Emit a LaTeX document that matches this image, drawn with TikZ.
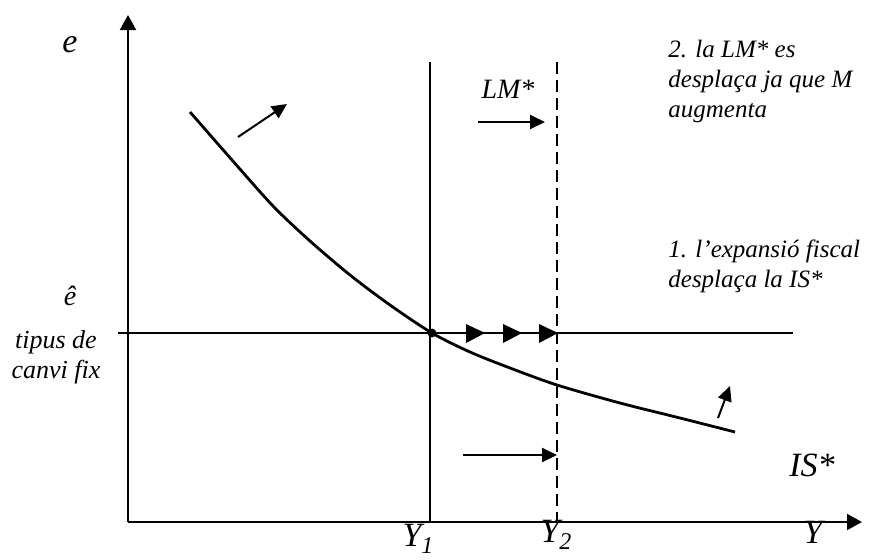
\documentclass[tikz,border=0pt]{standalone}
\usepackage{fontspec}
\setmainfont{Liberation Serif}
\usetikzlibrary{arrows.meta, positioning, calc}
\newcommand{\ysub}[1]{\textit{Y}\raisebox{-0.5ex}{\fontsize{12}{12}\selectfont #1}}

\begin{document}
\begin{tikzpicture}[x=0.5pt, y=-0.5pt,
    axis/.style={line width=1pt, -{Triangle[length=7.5pt, width=8pt]}},
    move/.style={line width=1pt, -{Triangle[length=7.5pt, width=7pt]}},
    big/.style={font=\fontsize{17}{17}\selectfont\itshape, inner sep=0pt},
    note/.style={font=\fontsize{12.5}{15}\selectfont\itshape, align=left, inner sep=0pt}]
    \useasboundingbox (0,0) rectangle (880,559);

    % Axes
    \coordinate (O) at (128,522);
    \coordinate (etop) at (128,15);
    \coordinate (yend) at (862,522);
    \draw[axis] (O) -- (etop);
    \draw[axis] (O) -- (yend);

    % Fixed exchange rate
    \coordinate (fixL) at (118,333);
    \coordinate (fixR) at (793,333);
    \draw[line width=1pt] (fixL) -- (fixR);

    % LM* curves
    \coordinate (lmtop) at (430,62);
    \coordinate (lmbot) at (430,522);
    \coordinate (lmtop2) at (557,62);
    \coordinate (lmbot2) at (557,522);
    \draw[line width=1.4pt] (lmtop) -- (lmbot);
    \draw[line width=1pt, dash pattern=on 6pt off 3pt] (lmtop2) -- (lmbot2);

    % IS* curve
    \draw[line width=1.4pt] plot[smooth] coordinates
        {(190,112) (232,160) (273,206) (310,241) (350,275) (390,305) (432,333)
         (470,352) (510,368) (557,385) (620,403) (680,418) (735,432)};
    \fill (432,333) circle (2.2pt);

    % Movement along the fixed rate
    \foreach \tip in {485,522,558}
        \fill (\tip,333) -- (\tip-19,324) -- (\tip-19,343) -- cycle;

    % Shift arrows
    \coordinate (s1a) at (478,122);
    \coordinate (s1b) at (545,122);
    \coordinate (s2a) at (463,455);
    \coordinate (s2b) at (557,455);
    \coordinate (s3a) at (238,137);
    \coordinate (s3b) at (287,104);
    \coordinate (s4a) at (718,418);
    \coordinate (s4b) at (730,386);
    \draw[move] (s1a) -- (s1b);
    \draw[move] (s2a) -- (s2b);
    \draw[move] (s3a) -- (s3b);
    \draw[move] (s4a) -- (s4b);

    % Labels
    \node[big] (e) at (70,45) {e};
    \node[big, font=\fontsize{14}{14}\selectfont\itshape] (lm) at (508,89) {LM*};
    \node[big] (is) at (812,465) {IS*};
    \node[big, font=\fontsize{14}{14}\selectfont\itshape] (ehat) at (70,296) {ê};
    \node[note, align=center, font=\fontsize{13}{15}\selectfont\itshape] (fix) at (56,357) {tipus de\\canvi fix};
    \node[big, anchor=base] (y1) at (418,546) {\ysub{1}};
    \node[big, anchor=base] (y2) at (556,542) {\ysub{2}};
    \node[big, anchor=base] (y) at (813,543) {Y};
    \node[note, anchor=north west] (lmnote) at (668,40) {2. la LM* es\\desplaça ja que M\\augmenta};
    \node[note, anchor=north west] (isnote) at (668,239) {1. l’expansió fiscal\\desplaça la IS*};
\end{tikzpicture}
\end{document}
